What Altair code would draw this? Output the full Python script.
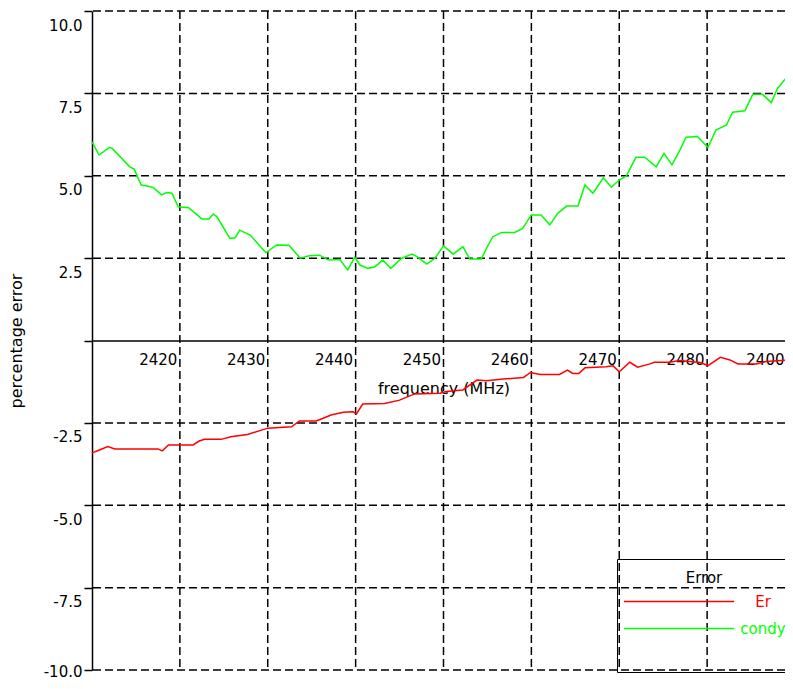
import altair as alt
import pandas as pd

# ---- data ----
er_freq = [2410.0, 2410.7, 2411.8, 2412.6, 2417.5, 2418.0, 2418.7, 2421.5, 2422.2, 2422.8,
           2424.7, 2425.8, 2427.7, 2429.3, 2430.0, 2432.7, 2433.6, 2435.5, 2436.3, 2437.2,
           2438.6, 2439.7, 2440.1, 2440.8, 2443.3, 2445.0, 2446.7, 2449.6, 2450.3, 2452.2,
           2453.8, 2454.9, 2456.8, 2459.1, 2459.9, 2461.0, 2463.2, 2464.1, 2464.7, 2465.4,
           2466.1, 2468.5, 2469.3, 2470.0, 2471.2, 2472.1, 2473.5, 2474.0, 2475.7, 2476.9,
           2479.2, 2480.1, 2481.5, 2482.6, 2483.5, 2485.6, 2486.7, 2489.2]
er_val = [-3.41, -3.34, -3.22, -3.29, -3.29, -3.35, -3.17, -3.17, -3.05, -3.00,
          -3.00, -2.92, -2.85, -2.72, -2.66, -2.62, -2.44, -2.44, -2.36, -2.26,
          -2.18, -2.16, -2.23, -1.93, -1.91, -1.81, -1.62, -1.60, -1.55, -1.50,
          -1.20, -1.22, -1.17, -1.12, -0.97, -1.03, -1.03, -0.90, -1.00, -1.00,
          -0.83, -0.80, -0.77, -0.95, -0.66, -0.81, -0.71, -0.66, -0.66, -0.61,
          -0.67, -0.76, -0.51, -0.59, -0.71, -0.71, -0.64, -0.59]

condy_freq = [2410.0, 2410.8, 2412.0, 2412.3, 2414.3, 2414.8, 2415.6, 2416.3, 2417.0, 2417.9,
              2418.5, 2419.1, 2419.8, 2421.0, 2422.5, 2423.3, 2423.8, 2424.2, 2425.7, 2426.3,
              2426.8, 2428.0, 2429.8, 2431.0, 2432.4, 2433.7, 2434.7, 2435.9, 2436.9, 2438.2,
              2439.1, 2439.9, 2440.5, 2441.4, 2442.2, 2443.1, 2444.0, 2445.2, 2446.4, 2446.9,
              2448.1, 2449.0, 2450.0, 2451.1, 2452.2, 2453.0, 2454.3, 2454.9, 2455.6, 2456.6,
              2458.1, 2459.0, 2460.0, 2461.1, 2462.1, 2463.0, 2464.0, 2465.3, 2466.1, 2467.0,
              2468.2, 2469.1, 2470.0, 2470.8, 2471.9, 2472.9, 2474.2, 2475.1, 2476.0, 2476.9,
              2477.6, 2478.9, 2480.1, 2481.0, 2482.2, 2482.9, 2484.3, 2485.2, 2486.3, 2487.3,
              2488.0, 2489.2]
condy_val = [6.03, 5.63, 5.86, 5.83, 5.27, 5.20, 4.72, 4.69, 4.64, 4.42,
             4.49, 4.47, 4.06, 4.03, 3.69, 3.69, 3.84, 3.76, 3.10, 3.12,
             3.35, 3.20, 2.66, 2.90, 2.89, 2.50, 2.57, 2.59, 2.44, 2.46,
             2.14, 2.52, 2.29, 2.19, 2.24, 2.44, 2.19, 2.49, 2.62, 2.56,
             2.32, 2.49, 2.87, 2.62, 2.85, 2.47, 2.47, 2.80, 3.15, 3.28,
             3.28, 3.40, 3.81, 3.81, 3.51, 3.86, 4.08, 4.08, 4.72, 4.47,
             4.94, 4.65, 4.87, 4.99, 5.56, 5.56, 5.27, 5.68, 5.33, 5.78,
             6.17, 6.19, 5.86, 6.39, 6.54, 6.93, 6.97, 7.47, 7.47, 7.22,
             7.65, 8.03]

# legend entries (the last, blank one only reserves the empty space at the bottom of the box)
series_names = ["Er", "condy", " "]
series_colors = ["#ff0000", "#00ff00", "rgba(0,0,0,0)"]

x_ticks = [2420, 2430, 2440, 2450, 2460, 2470, 2480, 2490]
y_ticks = [-10, -7.5, -5, -2.5, 0, 2.5, 5, 7.5, 10]
x_grid = [2420, 2430, 2440, 2450, 2460, 2470, 2480, 2490]
y_grid = [-10, -7.5, -5, -2.5, 2.5, 5, 7.5, 10]

FONT = "DejaVu Sans"

df = pd.concat([
    pd.DataFrame({"freq": er_freq, "val": er_val, "series": "Er"}),
    pd.DataFrame({"freq": condy_freq, "val": condy_val, "series": "condy"}),
])

# the 2490 edge of the frequency axis lies just past the right edge of the window
xscale = alt.Scale(domain=[2410, 2490], range=[0, 703], nice=False, zero=False)
yscale = alt.Scale(domain=[-10, 10], nice=False, zero=False)

xaxis = alt.Axis(
    title="frequency (MHz)", values=x_ticks, format="d",
    labelExpr="datum.value == 2490 ? '2400' : datum.label",
    offset=-329.5, grid=False, ticks=False,
    domainColor="black", domainWidth=1.5,
    labelAlign="right", labelBaseline="top",
    labelOffset=alt.expr("datum.value == 2490 ? -11 : -3"), labelPadding=12,
    labelFlush=False, labelOverlap=False, labelBound=False,
    labelFont=FONT, labelFontSize=15, labelColor="black",
    titleFont=FONT, titleFontSize=16, titleFontWeight="normal", titleColor="black",
    titlePadding=13,
)
yaxis = alt.Axis(
    title="percentage error", values=y_ticks,
    labelExpr="datum.value == 0 ? '' : (datum.value < 0 ? '-' : '') + format(abs(datum.value), '.1f')",
    grid=False, tickSize=8, tickColor="black", tickWidth=1.5,
    domainColor="black", domainWidth=1.5,
    labelPadding=2, labelOffset=alt.expr("datum.value == -10 ? 1 : 14"), labelBaseline="middle",
    labelFlush=False, labelOverlap=False,
    labelFont=FONT, labelFontSize=15, labelColor="black",
    titleFont=FONT, titleFontSize=16, titleFontWeight="normal", titleColor="black",
    titlePadding=19,
)

legend = alt.Legend(
    title=["", "Error"], titleLineHeight=6, orient="none", legendX=525, legendY=548,
    strokeColor="black", padding=6,
    symbolType="stroke", symbolSize=12150, symbolStrokeWidth=1.5,
    clipHeight=21, rowPadding=6,
    labelAlign="center", labelOffset=28,
    labelFont=FONT, labelFontSize=15,
    labelColor=alt.expr("datum.value == 'Er' ? '#ff0000' : '#00ff00'"),
    titleFont=FONT, titleFontSize=15, titleFontWeight="normal", titleColor="black",
    titleAnchor="middle", titlePadding=5,
)

dash = dict(color="black", strokeWidth=1.5, strokeDash=[8, 4])

xg = alt.Chart(pd.DataFrame({"freq": x_grid})).mark_rule(**dash).encode(
    x=alt.X("freq:Q", scale=xscale, axis=xaxis)
)
yg = alt.Chart(pd.DataFrame({"val": y_grid})).mark_rule(**dash).encode(
    y=alt.Y("val:Q", scale=yscale, axis=yaxis)
)
lines = alt.Chart(df).mark_line(strokeWidth=1.5).encode(
    x=alt.X("freq:Q", scale=xscale, axis=xaxis),
    y=alt.Y("val:Q", scale=yscale, axis=yaxis),
    color=alt.Color("series:N", scale=alt.Scale(domain=series_names, range=series_colors),
                    legend=legend),
)

chart = alt.layer(xg, yg, lines).properties(
    width=693, height=659,
    autosize=alt.AutoSizeParams(type="none"),
    padding={"left": 84, "top": 3, "right": 0, "bottom": 11},
    background="white",
).configure_view(stroke=None)

chart.save("out.html", embed_options={"renderer": "svg", "actions": False})
